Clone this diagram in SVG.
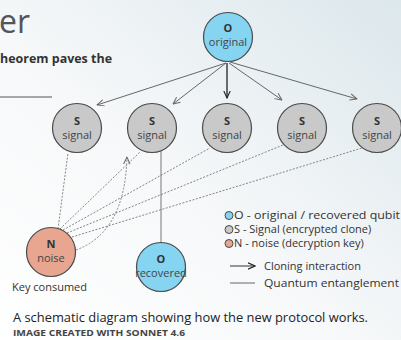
<svg xmlns="http://www.w3.org/2000/svg" width="401" height="340" viewBox="0 0 401 340">
<defs>
<linearGradient id="bg" x1="0" y1="1" x2="1" y2="0">
<stop offset="0" stop-color="#ffffff"/>
<stop offset="0.45" stop-color="#f6f8f9"/>
<stop offset="1" stop-color="#dce7ec"/>
</linearGradient>
<marker id="ah" viewBox="0 0 8 8" refX="7.5" refY="4" markerWidth="8" markerHeight="8" markerUnits="userSpaceOnUse" orient="auto">
<path d="M0.5,0.8 L7.5,4 L0.5,7.2" fill="none" stroke="#666" stroke-width="1"/>
</marker>
<marker id="ahd" viewBox="0 0 8 8" refX="7.5" refY="4" markerWidth="8" markerHeight="8" markerUnits="userSpaceOnUse" orient="auto">
<path d="M0.5,0.8 L7.5,4 L0.5,7.2" fill="none" stroke="#222" stroke-width="1.1"/>
</marker>
</defs>
<style>
.t{font-family:"Open Sans","Noto Sans",sans-serif;fill:#333}
.nb{font-weight:bold;font-size:11px;text-anchor:middle}
.nl{font-size:11px;text-anchor:middle;fill:#444}
.blue{fill:#84d4f2;stroke:#4a4a4a;stroke-width:1.2}
.gray{fill:#c9c9c9;stroke:#4a4a4a;stroke-width:1.2}
.red{fill:#e8a58f;stroke:#4a4a4a;stroke-width:1.2}
.arr{stroke:#666;stroke-width:1;fill:none;marker-end:url(#ah)}
.dash{stroke:#777;stroke-width:0.9;fill:none;stroke-dasharray:2 1.5}
.lg{font-size:11px;fill:#333}
</style>
<rect width="401" height="340" fill="url(#bg)"/>
<text class="t" x="-1" y="33" font-size="32" style="fill:#555">er</text>
<text class="t" x="0" y="63" font-size="12" font-weight="bold" textLength="112" lengthAdjust="spacingAndGlyphs">heorem paves the</text>
<line x1="0" y1="97" x2="52" y2="97" stroke="#555" stroke-width="1"/>

<g id="connectors">
<line class="arr" x1="226" y1="63" x2="97" y2="105"/>
<line class="arr" x1="226" y1="63" x2="173" y2="104"/>
<line x1="227" y1="63" x2="227" y2="98" stroke="#222" stroke-width="1.3" marker-end="url(#ahd)"/>
<line class="arr" x1="229" y1="63" x2="282" y2="100"/>
<line class="arr" x1="230" y1="62" x2="357" y2="99"/>
<line x1="161" y1="151" x2="161" y2="243" stroke="#777" stroke-width="1"/>
<line class="dash" x1="58" y1="229" x2="68" y2="153"/>
<line class="dash" x1="60" y1="229" x2="140" y2="152"/>
<line class="dash" x1="63" y1="230" x2="210" y2="148"/>
<line class="dash" x1="67" y1="233" x2="283" y2="145"/>
<line class="dash" x1="72" y1="237" x2="362" y2="148"/>
<path class="dash" d="M76,250 Q125,232 127,157" marker-end="url(#ah)"/>
</g>

<g id="original">
<circle class="blue" cx="228" cy="37" r="24.5"/>
<text class="t nb" x="228" y="32">O</text>
<text class="t nl" x="228" y="46">original</text>
</g>
<g id="signal1">
<circle class="gray" cx="77" cy="128" r="24.5"/>
<text class="t nb" x="77" y="125">S</text>
<text class="t nl" x="77" y="139">signal</text>
</g>
<g id="signal2">
<circle class="gray" cx="152" cy="128" r="24.5"/>
<text class="t nb" x="152" y="125">S</text>
<text class="t nl" x="152" y="139">signal</text>
</g>
<g id="signal3">
<circle class="gray" cx="227" cy="128" r="24.5"/>
<text class="t nb" x="227" y="125">S</text>
<text class="t nl" x="227" y="139">signal</text>
</g>
<g id="signal4">
<circle class="gray" cx="302" cy="128" r="24.5"/>
<text class="t nb" x="302" y="125">S</text>
<text class="t nl" x="302" y="139">signal</text>
</g>
<g id="signal5">
<circle class="gray" cx="377" cy="128" r="24.5"/>
<text class="t nb" x="377" y="125">S</text>
<text class="t nl" x="377" y="139">signal</text>
</g>
<g id="noise">
<circle class="red" cx="51" cy="252" r="24.5"/>
<text class="t nb" x="51" y="248">N</text>
<text class="t nl" x="51" y="262">noise</text>
</g>
<g id="recovered">
<circle class="blue" cx="161" cy="267" r="24.5"/>
<text class="t nb" x="161" y="263">O</text>
<text class="t nl" x="161" y="277">recovered</text>
</g>
<text class="t" x="12" y="291" font-size="11">Key consumed</text>

<g id="legend">
<circle class="blue" cx="229" cy="215.5" r="4" style="stroke-width:1"/>
<text class="t lg" x="234" y="219" textLength="166" lengthAdjust="spacingAndGlyphs">O - original / recovered qubit</text>
<circle class="gray" cx="229" cy="229.5" r="4" style="stroke-width:1"/>
<text class="t lg" x="234" y="233">S - Signal (encrypted clone)</text>
<circle class="red" cx="229" cy="243.5" r="4" style="stroke-width:1"/>
<text class="t lg" x="234" y="247">N - noise (decryption key)</text>
<line x1="230" y1="266" x2="255" y2="266" stroke="#333" stroke-width="1" marker-end="url(#ahd)"/>
<text class="t lg" x="264" y="270">Cloning interaction</text>
<line x1="230" y1="283" x2="255" y2="283" stroke="#666" stroke-width="1"/>
<text class="t lg" x="264" y="287" textLength="135" lengthAdjust="spacingAndGlyphs">Quantum entanglement</text>
</g>

<text class="t" x="13" y="322" font-size="12" textLength="355" lengthAdjust="spacingAndGlyphs" style="fill:#222">A schematic diagram showing how the new protocol works.</text>
<text class="t" x="13" y="336" font-size="8.5" font-weight="bold" textLength="172" lengthAdjust="spacingAndGlyphs" style="fill:#444">IMAGE CREATED WITH SONNET 4.6</text>
</svg>
